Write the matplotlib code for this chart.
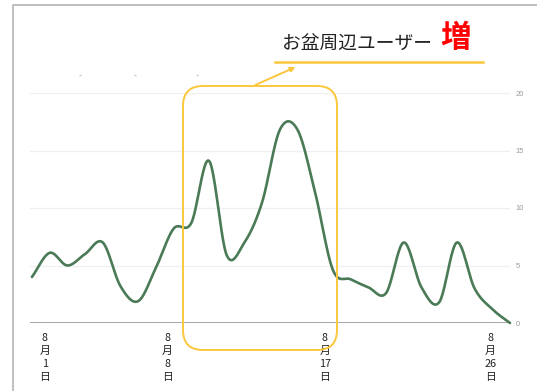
import numpy as np
import matplotlib
matplotlib.use("Agg")
import matplotlib.pyplot as plt
from matplotlib.patches import FancyBboxPatch

plt.rcParams['font.family'] = ['Noto Sans CJK JP', 'DejaVu Sans']

# daily users, one value per day
users = [4.0, 6.1, 5.0, 6.0, 7.0, 3.2, 1.9, 4.8, 8.2, 8.7, 14.1, 5.9, 7.0, 10.5,
         16.8, 16.8, 11.3, 4.6, 3.8, 3.1, 2.6, 7.0, 3.1, 1.8, 7.0, 3.0, 1.2, 0.0]
tick_pos = [0.73, 7.63, 16.55, 25.9]
tick_labels = ["8\n月\n1\n日", "8\n月\n8\n日", "8\n月\n17\n日", "8\n月\n26\n日"]
y_ticks = [0, 5, 10, 15, 20]
note_text = "お盆周辺ユーザー"
note_mark = "増"


def catmull_rom(y, n=24):
    y = np.asarray(y, dtype=float)
    yp = np.concatenate([[2 * y[0] - y[1]], y, [2 * y[-1] - y[-2]]])
    t = np.linspace(0, 1, n, endpoint=False)
    xs, ys = [], []
    for i in range(len(y) - 1):
        p0, p1, p2, p3 = yp[i:i + 4]
        m1 = (p2 - p0) / 2
        m2 = (p3 - p1) / 2
        h00 = 2 * t**3 - 3 * t**2 + 1
        h10 = t**3 - 2 * t**2 + t
        h01 = -2 * t**3 + 3 * t**2
        h11 = t**3 - t**2
        ys.append(h00 * p1 + h10 * m1 + h01 * p2 + h11 * m2)
        xs.append(i + t)
    xs.append([len(y) - 1])
    ys.append([y[-1]])
    return np.concatenate(xs), np.concatenate(ys)


W, H = 537, 391
fig = plt.figure(figsize=(W / 100, H / 100), dpi=100)

# main chart area in pixel terms: left 30, right 510, baseline 323, top 93
ax = fig.add_axes([30 / W, (H - 323) / H, 480 / W, 230 / H])
sx, sy = catmull_rom(users)
ax.plot(sx, sy, color="#4a7a56", lw=1.9, solid_capstyle="round", clip_on=False, zorder=3)
ax.set_xlim(-0.11, len(users) - 1)
ax.set_ylim(0, 20)
for s in ax.spines.values():
    s.set_visible(False)
for v in y_ticks[1:]:
    ax.axhline(v, color="#efeff4", lw=0.9, zorder=1)
ax.axhline(0, color="#a8a8a8", lw=1.4, zorder=2)
ax.yaxis.tick_right()
ax.set_yticks(y_ticks)
ax.set_yticklabels([str(v) for v in y_ticks], fontsize=5.5, color="#9a9a9a", family="Liberation Sans")
ax.tick_params(axis="y", length=0, pad=4)
ax.set_xticks(tick_pos)
ax.set_xticklabels(tick_labels, fontsize=7.8, color="#222222", linespacing=1.4)
ax.tick_params(axis="x", length=0, pad=7)

# overlay in pixel coordinates for the frame and the callout
ov = fig.add_axes([0, 0, 1, 1])
ov.set_xlim(0, W)
ov.set_ylim(H, 0)
ov.axis("off")
ov.patch.set_alpha(0)

ov.plot([13, 13, W], [H, 5, 5], color="#b4b4b4", lw=1.2)
ov.plot([80, 135, 197], [75, 75, 75], ls="none", marker="_", ms=2, color="#c8c8c8")

yellow = "#fcc73c"
box = FancyBboxPatch((183 + 20, 86 + 20), 337 - 183 - 40, 350 - 86 - 40,
                     boxstyle="round,pad=20", fc="none", ec=yellow, lw=1.4, zorder=5)
ov.add_patch(box)
ov.plot([275, 483], [62, 62], color=yellow, lw=1.8)
ov.annotate("", xy=(298, 66), xytext=(253, 86),
            arrowprops=dict(arrowstyle="-|>", color=yellow, lw=1.4, mutation_scale=7))
ov.text(282, 44, note_text, fontsize=13.5, color="#222222", ha="left", va="center")
ov.text(456, 38, note_mark, fontsize=22, color="#ff0000", fontweight="bold",
        ha="center", va="center")

fig.savefig("out.png", dpi=100)
